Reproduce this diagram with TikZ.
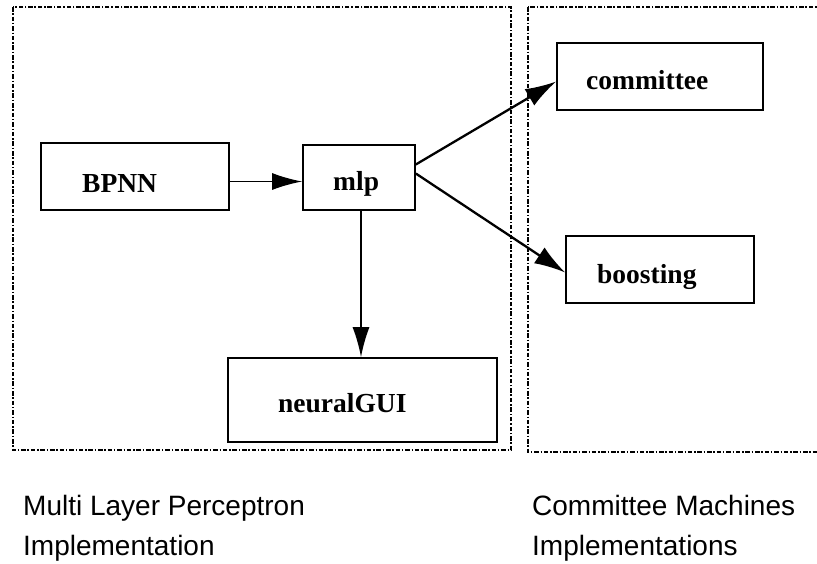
\documentclass[tikz,border=0pt]{standalone}
\usepackage{fontspec}
\setmainfont{Liberation Serif}
\newfontfamily\capfont{Liberation Sans}
\usetikzlibrary{arrows.meta,calc}
\begin{document}
\begin{tikzpicture}[x=1pt,y=-1pt,
  group/.style={draw, line width=1.2pt, dash pattern=on 4.5pt off 1.8pt on 1.5pt off 1.8pt},
  box/.style={draw, line width=1.6pt, rectangle, inner sep=0pt},
  lbl/.style={anchor=base west, inner sep=0pt, font=\fontsize{27.5}{30}\selectfont\bfseries},
  captext/.style={anchor=base west, inner sep=0pt, font=\capfont\fontsize{28}{32}\selectfont},
  arr/.style={line width=1.7pt, -{Latex[length=30pt,width=17pt]}},
  darr/.style={line width=2.3pt, -{Latex[length=31pt,width=19pt]}}]
\useasboundingbox (0,0) rectangle (817,563);
\clip (0,0) rectangle (817,563);
% group frames
\draw[group] (13,7) rectangle (511,450);
\draw[group] (528,7) rectangle (840,452);
% boxes
\node[box, minimum width=188pt, minimum height=67pt] (bpnn) at (135,176.5) {};
\node[lbl] (bpnnt) at (82,192) {BPNN};
\node[box, minimum width=112pt, minimum height=65pt] (mlp) at (359,177.5) {};
\node[lbl] (mlpt) at (333,190) {mlp};
\node[box, minimum width=206pt, minimum height=67pt] (com) at (660,76.5) {};
\node[lbl] (comt) at (586,89) {committee};
\node[box, minimum width=188pt, minimum height=67pt] (boo) at (660,269.5) {};
\node[lbl] (boot) at (597,283) {boosting};
\node[box, minimum width=269pt, minimum height=84pt] (gui) at (362.5,400) {};
\node[lbl] (guit) at (278,412) {neuralGUI};
% connectors
\draw[arr] ([yshift=-5pt]bpnn.east) -- ([yshift=-4pt]mlp.west);
\draw[darr] ([yshift=13pt]mlp.east) -- ([yshift=-5pt]com.west);
\draw[darr] ([yshift=4pt]mlp.east) -- ([yshift=-3pt]boo.west);
\draw[arr] ([xshift=2pt]mlp.south) -- ([xshift=-1.5pt]gui.north);
% captions
\node[captext] (c1) at (23,515) {Multi Layer Perceptron};
\node[captext] (c2) at (23,555) {Implementation};
\node[captext] (c3) at (532,515) {Committee Machines};
\node[captext] (c4) at (532,555) {Implementations};
\end{tikzpicture}
\end{document}
